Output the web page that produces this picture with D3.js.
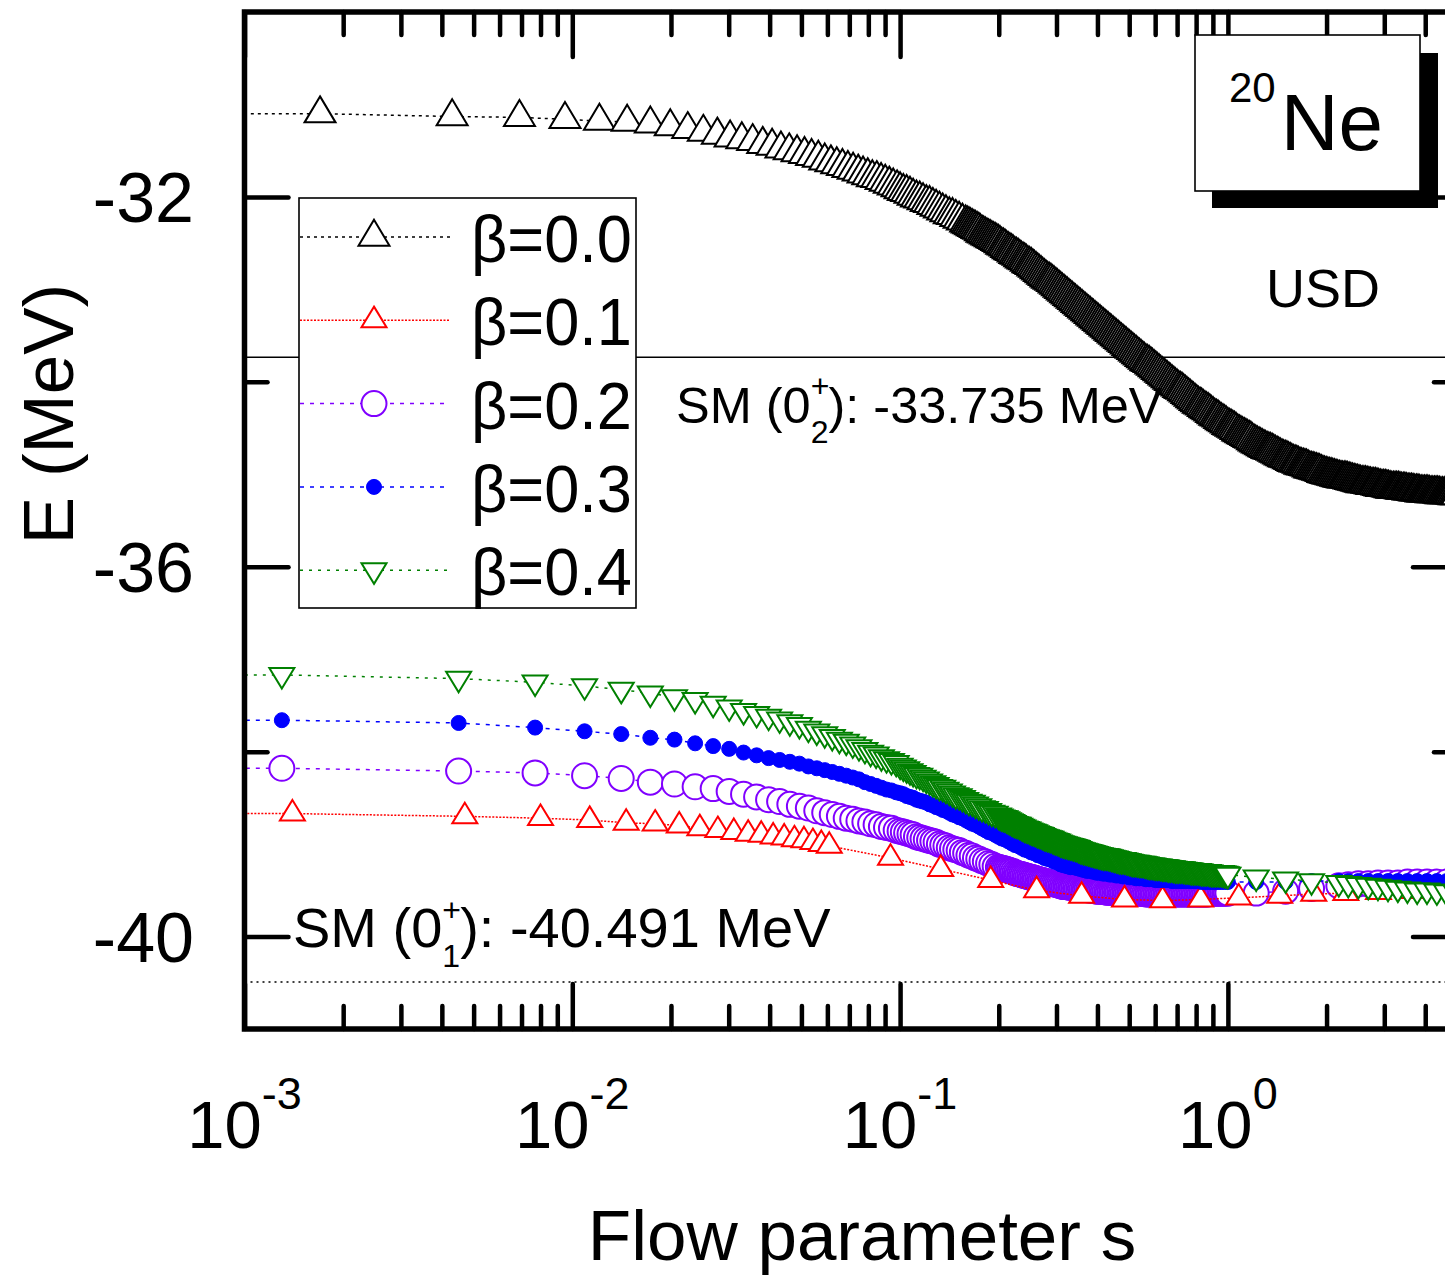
<!DOCTYPE html>
<html><head><meta charset="utf-8">
<script src="https://cdn.jsdelivr.net/npm/d3@7"></script>
<style>body{margin:0;background:#fff}svg{display:block}text{font-family:"Liberation Sans",Arial,sans-serif;fill:#000}</style>
</head><body><svg id="chart" width="1445" height="1287"></svg>
<script>
// ---------------- data ----------------
const seriesLabels = ["β=0.0","β=0.1","β=0.2","β=0.3","β=0.4"];
const xTickValues = [0.001, 0.01, 0.1, 1];
const xTickExponents = ["-3","-2","-1","0"];
const xMinorTicks = [0.002,0.003,0.004,0.005,0.006,0.007,0.008,0.009,0.02,0.03,0.04,0.05,0.06,0.07,0.08,0.09,0.2,0.3,0.4,0.5,0.6,0.7,0.8,0.9,2,3,4];
const yTickValues = [-32, -36, -40];
const yMinorTicks = [-34, -38];
const smLevels = [-33.735, -40.491];

// flow-parameter grid shared in the 0.1 - 1 region
const sFine = [0.1000,0.1023,0.1047,0.1072,0.1096,0.1122,0.1148,0.1175,0.1202,0.1230,
0.1259,0.1288,0.1318,0.1349,0.1380,0.1413,0.1445,0.1479,0.1514,0.1549,
0.1585,0.1622,0.1660,0.1698,0.1738,0.1778,0.1820,0.1862,0.1905,0.1950,
0.1995,0.2042,0.2089,0.2138,0.2188,0.2239,0.2291,0.2344,0.2399,0.2455,
0.2512,0.2570,0.2630,0.2692,0.2754,0.2818,0.2884,0.2951,0.3020,0.3090,
0.3162,0.3236,0.3311,0.3388,0.3467,0.3548,0.3631,0.3715,0.3802,0.3890,
0.3981,0.4074,0.4169,0.4266,0.4365,0.4467,0.4571,0.4677,0.4786,0.4898,
0.5012,0.5129,0.5248,0.5370,0.5495,0.5623,0.5754,0.5888,0.6026,0.6166,
0.6310,0.6457,0.6607,0.6761,0.6918,0.7079,0.7244,0.7413,0.7586,0.7762,
0.7943,0.8128,0.8318,0.8511,0.8710,0.8913,0.9120,0.9333,0.9550,0.9772];
// intermediate flow steps (dense part of the flow)
const sMidFine = [0.10116,0.10351,0.10593,0.10839,0.11092,0.11350,0.11614,0.11885,0.12162,0.12445,
0.12735,0.13032,0.13335,0.13646,0.13964,0.14289,0.14622,0.14962,0.15311,0.15668,
0.16032,0.16406,0.16788,0.17179,0.17579,0.17989,0.18408,0.18836,0.19275,0.19724,
0.20184,0.20654,0.21135,0.21627,0.22131,0.22646,0.23174,0.23714,0.24266,0.24831,
0.25410,0.26002,0.26607,0.27227,0.27861,0.28510,0.29174,0.29854,0.30549,0.31261,
0.31989,0.32734,0.33497,0.34277,0.35075,0.35892,0.36728,0.37584,0.38459,0.39355,
0.40272,0.41210,0.42170,0.43152,0.44157,0.45186,0.46238,0.47315,0.48417,0.49545,
0.50699,0.51880,0.53088,0.54325,0.55590,0.56885,0.58210,0.59566,0.60954,0.62373,
0.63826,0.65313,0.66834,0.68391,0.69984,0.71614,0.73282,0.74989,0.76736,0.78524,
0.80353,0.82224,0.84140,0.86099,0.88105,0.90157,0.92257,0.94406,0.96605,0.98855];
const sMidEnd = [1.0116,1.0351,1.0593,1.0839,1.1092,1.1350,1.1614,1.1885,1.2162,1.2445,
1.2735,1.3032,1.3335,1.3646,1.3964,1.4289,1.4622,1.4962,1.5311,1.5668,
1.6032,1.6406,1.6788,1.7179,1.7579,1.7989,1.8408,1.8836,1.9275,1.9724,
2.0184,2.0654,2.1135,2.1627,2.2131,2.2646,2.3174,2.3714,2.4266,2.4831,
2.5410,2.6002,2.6607,2.7227,2.7861,2.8510,2.9174,2.9854,3.0549,3.1261,
3.1989,3.2734,3.3497,3.4277,3.5075,3.5892,3.6728,3.7584,3.8459,3.9355,
4.0272,4.1210,4.2170,4.3152,4.4157,4.5186,4.6238,4.7315,4.8417,4.9545];

// beta = 0.0
const sBlackStart = [0.0005,0.0017,0.0043,0.0069,0.0095,0.0121,0.0147,0.0173,0.0199,0.0225,0.0251,
0.0277,0.0303,0.0329,0.0355,0.0381,0.0407,0.0433,0.0459,0.0485,0.0511,
0.0537,0.0563,0.0589,0.0615,0.0641,0.0667,0.0693,0.0719,0.0745,0.0771,
0.0797,0.0823,0.0849,0.0875,0.0901,0.0927,0.0953,0.0979];
const sBlackEnd = [1.000,1.023,1.047,1.072,1.096,1.122,1.148,1.175,1.202,1.230,
1.259,1.288,1.318,1.349,1.380,1.413,1.445,1.479,1.514,1.549,
1.585,1.622,1.660,1.698,1.738,1.778,1.820,1.862,1.905,1.950,
1.995,2.042,2.089,2.138,2.188,2.239,2.291,2.344,2.399,2.455,
2.512,2.570,2.630,2.692,2.754,2.818,2.884,2.951,3.020,3.090,
3.162,3.236,3.311,3.388,3.467,3.548,3.631,3.715,3.802,3.890,
3.981,4.074,4.169,4.266,4.365,4.467,4.571,4.677,4.786,4.898,5.012];
const eBlack = [-31.10,
-31.10,-31.13,-31.14,-31.16,-31.18,-31.19,-31.21,-31.24,-31.27,-31.30,
-31.33,-31.36,-31.38,-31.40,-31.43,-31.45,-31.48,-31.50,-31.52,-31.54,
-31.56,-31.58,-31.61,-31.63,-31.65,-31.67,-31.69,-31.71,-31.73,-31.75,
-31.77,-31.79,-31.80,-31.82,-31.84,-31.86,-31.88,-31.90,
-31.92,-31.94,-31.95,-31.97,-31.99,-32.01,-32.02,-32.04,-32.06,-32.07,
-32.09,-32.11,-32.13,-32.15,-32.17,-32.19,-32.20,-32.22,-32.24,-32.26,
-32.28,-32.30,-32.32,-32.34,-32.36,-32.39,-32.41,-32.43,-32.45,-32.47,
-32.49,-32.52,-32.54,-32.57,-32.59,-32.62,-32.64,-32.67,-32.69,-32.72,
-32.74,-32.77,-32.80,-32.83,-32.86,-32.89,-32.91,-32.94,-32.97,-33.00,
-33.03,-33.06,-33.09,-33.12,-33.15,-33.18,-33.21,-33.24,-33.27,-33.30,
-33.33,-33.36,-33.39,-33.42,-33.45,-33.48,-33.51,-33.54,-33.57,-33.60,
-33.63,-33.66,-33.69,-33.72,-33.75,-33.78,-33.80,-33.83,-33.86,-33.89,
-33.92,-33.95,-33.98,-34.01,-34.04,-34.07,-34.09,-34.12,-34.15,-34.18,
-34.21,-34.24,-34.26,-34.29,-34.31,-34.34,-34.37,-34.39,-34.42,-34.44,
-34.47,-34.49,-34.51,-34.54,-34.56,-34.58,-34.60,-34.62,-34.65,-34.67,
-34.69,-34.71,-34.73,-34.74,-34.76,-34.78,-34.80,-34.82,-34.83,-34.85,
-34.87,-34.88,-34.90,-34.91,-34.92,-34.94,-34.95,-34.96,-34.97,-34.99,
-35.00,-35.01,-35.02,-35.03,-35.04,-35.05,-35.05,-35.06,-35.07,-35.08,
-35.09,-35.10,-35.10,-35.11,-35.12,-35.12,-35.13,-35.14,-35.14,-35.15,
-35.16,-35.16,-35.16,-35.17,-35.17,-35.18,-35.18,-35.19,-35.19,-35.20,
-35.20,-35.20,-35.21,-35.21,-35.21,-35.22,-35.22,-35.22,-35.22,-35.23,-35.23];
// beta = 0.0 at the intermediate steps (sMidFine from index 20, then sMidEnd)
const eBlackMid = [
-32.29,-32.31,-32.33,-32.35,-32.375,-32.40,-32.42,-32.44,-32.46,-32.48,
-32.505,-32.53,-32.555,-32.58,-32.605,-32.63,-32.655,-32.68,-32.705,-32.73,
-32.755,-32.785,-32.815,-32.845,-32.875,-32.90,-32.925,-32.955,-32.985,-33.015,
-33.045,-33.075,-33.105,-33.135,-33.165,-33.195,-33.225,-33.255,-33.285,-33.315,
-33.345,-33.375,-33.405,-33.435,-33.465,-33.495,-33.525,-33.555,-33.585,-33.615,
-33.645,-33.675,-33.705,-33.735,-33.765,-33.79,-33.815,-33.845,-33.875,-33.905,
-33.935,-33.965,-33.995,-34.025,-34.055,-34.08,-34.105,-34.135,-34.165,-34.195,
-34.225,-34.25,-34.275,-34.30,-34.325,-34.355,-34.38,-34.405,-34.43,-34.455,
-34.48,-34.50,-34.525,-34.55,-34.57,-34.59,-34.61,-34.635,-34.66,-34.68,
-34.70,-34.72,-34.735,-34.75,-34.77,-34.79,-34.81,-34.825,-34.84,-34.86,
-34.875,-34.89,-34.905,-34.915,-34.93,-34.945,-34.955,-34.965,-34.98,-34.995,
-35.005,-35.015,-35.025,-35.035,-35.045,-35.05,-35.055,-35.065,-35.075,-35.085,
-35.095,-35.10,-35.105,-35.115,-35.12,-35.125,-35.135,-35.14,-35.145,-35.155,
-35.16,-35.16,-35.165,-35.17,-35.175,-35.18,-35.185,-35.19,-35.195,-35.20,
-35.20,-35.205,-35.21,-35.21,-35.215,-35.22,-35.22,-35.22,-35.225,-35.23];

// beta = 0.1
const sRed = [0.0005,0.0014,0.0047,0.0080,0.0113,0.0146,0.0179,0.0212,0.0245,0.0278,0.0311,
0.0344,0.0377,0.0410,0.0443,0.0476,0.0509,0.0542,0.0575,0.0608,
0.0935,0.133,0.189,0.261,0.358,0.484,0.632,0.826,1.079,1.439,1.828,2.29,2.88,3.66,4.62];
const eRed = [-38.67,-38.67,-38.70,-38.72,-38.74,-38.77,-38.78,-38.80,-38.83,-38.85,-38.87,
-38.89,-38.90,-38.92,-38.93,-38.95,-38.96,-38.98,-39.00,-39.02,
-39.15,-39.27,-39.39,-39.50,-39.56,-39.60,-39.61,-39.60,-39.58,-39.56,-39.54,-39.53,-39.52,-39.51,-39.50];

// beta = 0.2, 0.3, 0.4 share one flow grid
const sColStart = [0.0005,0.0013,0.0045,0.0077,0.0109,0.0141,0.0173,0.0205,0.0237,0.0269,0.0301,
0.0333,0.0365,0.0397,0.0429,0.0461,0.0493,0.0525,0.0557,0.0589,0.0621,
0.0653,0.0685,0.0717,0.0749,0.0781,0.0813,0.0845,0.0877,0.0909,0.0941,0.0973];
const sColEnd = [1.000,1.22,1.50,1.80,2.18,2.33,2.50,2.68,2.87,3.08,3.30,3.53,3.78,4.05,4.34,4.65,4.99];

const ePurple = [-38.18,
-38.18,-38.21,-38.23,-38.26,-38.29,-38.33,-38.35,-38.38,-38.40,-38.43,
-38.46,-38.49,-38.52,-38.54,-38.57,-38.59,-38.61,-38.64,-38.66,-38.68,
-38.70,-38.72,-38.73,-38.75,-38.76,-38.78,-38.79,-38.81,-38.82,-38.83,-38.85,
-38.86,-38.87,-38.88,-38.89,-38.90,-38.92,-38.93,-38.94,-38.95,-38.96,
-38.97,-38.98,-39.00,-39.01,-39.02,-39.04,-39.05,-39.06,-39.07,-39.09,
-39.10,-39.12,-39.13,-39.15,-39.16,-39.18,-39.19,-39.21,-39.22,-39.24,
-39.25,-39.26,-39.27,-39.28,-39.29,-39.31,-39.32,-39.33,-39.34,-39.35,
-39.36,-39.37,-39.38,-39.39,-39.40,-39.41,-39.42,-39.43,-39.44,-39.45,
-39.46,-39.46,-39.47,-39.47,-39.48,-39.48,-39.49,-39.49,-39.50,-39.50,
-39.51,-39.51,-39.51,-39.52,-39.52,-39.52,-39.52,-39.52,-39.53,-39.53,
-39.53,-39.53,-39.53,-39.53,-39.53,-39.54,-39.54,-39.54,-39.54,-39.54,
-39.54,-39.54,-39.54,-39.54,-39.54,-39.54,-39.54,-39.54,-39.54,-39.54,
-39.54,-39.54,-39.54,-39.54,-39.54,-39.53,-39.53,-39.53,-39.53,-39.53,
-39.53,-39.53,-39.51,-39.48,-39.45,-39.44,-39.43,-39.43,-39.42,-39.42,-39.42,-39.41,-39.41,-39.41,-39.41,-39.41,-39.41];
// beta = 0.2 at the intermediate steps (sMidFine from index 30)
const ePurpleMid = [
-39.255,-39.265,-39.275,-39.285,-39.30,-39.315,-39.325,-39.335,-39.345,-39.355,
-39.365,-39.375,-39.385,-39.395,-39.405,-39.415,-39.425,-39.435,-39.445,-39.455,
-39.46,-39.465,-39.47,-39.475,-39.48,-39.485,-39.49,-39.495,-39.50,-39.505,
-39.51,-39.51,-39.515,-39.52,-39.52,-39.52,-39.52,-39.525,-39.53,-39.53,
-39.53,-39.53,-39.53,-39.53,-39.535,-39.54,-39.54,-39.54,-39.54,-39.54,
-39.54,-39.54,-39.54,-39.54,-39.54,-39.54,-39.54,-39.54,-39.54,-39.54,
-39.54,-39.54,-39.54,-39.54,-39.535,-39.53,-39.53,-39.53,-39.53,-39.53];

const eBlue = [-37.66,
-37.66,-37.69,-37.74,-37.78,-37.81,-37.85,-37.87,-37.91,-37.94,-37.97,
-38.01,-38.04,-38.07,-38.09,-38.11,-38.13,-38.16,-38.18,-38.20,-38.22,
-38.24,-38.26,-38.28,-38.30,-38.33,-38.35,-38.37,-38.39,-38.41,-38.42,-38.44,
-38.45,-38.46,-38.48,-38.49,-38.50,-38.52,-38.53,-38.54,-38.55,-38.57,
-38.58,-38.60,-38.61,-38.63,-38.64,-38.66,-38.68,-38.69,-38.71,-38.72,
-38.74,-38.76,-38.78,-38.79,-38.81,-38.83,-38.85,-38.87,-38.88,-38.90,
-38.92,-38.94,-38.95,-38.97,-38.99,-39.01,-39.02,-39.04,-39.06,-39.07,
-39.09,-39.10,-39.12,-39.13,-39.15,-39.16,-39.17,-39.19,-39.20,-39.22,
-39.23,-39.24,-39.25,-39.25,-39.26,-39.27,-39.28,-39.29,-39.29,-39.30,
-39.31,-39.31,-39.32,-39.32,-39.33,-39.33,-39.34,-39.34,-39.35,-39.35,
-39.36,-39.36,-39.37,-39.37,-39.37,-39.38,-39.38,-39.38,-39.39,-39.39,
-39.39,-39.39,-39.39,-39.40,-39.40,-39.40,-39.40,-39.40,-39.40,-39.40,
-39.40,-39.40,-39.41,-39.41,-39.41,-39.41,-39.41,-39.41,-39.41,-39.41,
-39.41,-39.41,-39.41,-39.40,-39.40,-39.40,-39.40,-39.40,-39.40,-39.40,-39.40,-39.40,-39.40,-39.40,-39.40,-39.40,-39.40];

const eGreen = [-37.17,
-37.17,-37.21,-37.25,-37.29,-37.33,-37.37,-37.41,-37.44,-37.48,-37.52,
-37.56,-37.59,-37.62,-37.65,-37.68,-37.71,-37.75,-37.78,-37.81,-37.84,
-37.87,-37.89,-37.92,-37.95,-37.98,-38.01,-38.03,-38.06,-38.08,-38.10,-38.12,
-38.15,-38.17,-38.19,-38.21,-38.23,-38.25,-38.26,-38.28,-38.30,-38.32,
-38.34,-38.36,-38.38,-38.39,-38.41,-38.43,-38.45,-38.47,-38.48,-38.50,
-38.52,-38.54,-38.55,-38.57,-38.59,-38.61,-38.62,-38.64,-38.66,-38.67,
-38.69,-38.71,-38.72,-38.74,-38.76,-38.78,-38.79,-38.81,-38.83,-38.84,
-38.86,-38.87,-38.89,-38.90,-38.92,-38.93,-38.94,-38.96,-38.97,-38.99,
-39.00,-39.01,-39.02,-39.03,-39.04,-39.06,-39.07,-39.08,-39.09,-39.10,
-39.11,-39.12,-39.13,-39.13,-39.14,-39.15,-39.16,-39.17,-39.17,-39.18,
-39.19,-39.20,-39.20,-39.21,-39.21,-39.22,-39.23,-39.23,-39.24,-39.24,
-39.25,-39.25,-39.26,-39.26,-39.27,-39.27,-39.27,-39.28,-39.28,-39.29,
-39.29,-39.29,-39.30,-39.30,-39.30,-39.31,-39.31,-39.31,-39.31,-39.32,
-39.33,-39.36,-39.38,-39.40,-39.42,-39.43,-39.44,-39.45,-39.46,-39.47,-39.48,-39.49,-39.50,-39.50,-39.51,-39.52,-39.53];
// beta = 0.4 at the intermediate steps (sMidFine from index 30)
const eGreenMid = [
-38.70,-38.715,-38.73,-38.75,-38.77,-38.785,-38.80,-38.82,-38.835,-38.85,
-38.865,-38.88,-38.895,-38.91,-38.925,-38.935,-38.95,-38.965,-38.98,-38.995,
-39.005,-39.015,-39.025,-39.035,-39.05,-39.065,-39.075,-39.085,-39.095,-39.105,
-39.115,-39.125,-39.13,-39.135,-39.145,-39.155,-39.165,-39.17,-39.175,-39.185,
-39.195,-39.20,-39.205,-39.21,-39.215,-39.225,-39.23,-39.235,-39.24,-39.245,
-39.25,-39.255,-39.26,-39.265,-39.27,-39.27,-39.275,-39.28,-39.285,-39.29,
-39.29,-39.295,-39.30,-39.30,-39.305,-39.31,-39.31,-39.31,-39.315,-39.325];

const sBlack = [...sBlackStart, ...sFine, ...sBlackEnd];
const sBlackMid = [...sMidFine.slice(20), ...sMidEnd];
const sCol = [...sColStart, ...sFine, ...sColEnd];
const sColMid = sMidFine.slice(30);

// ---------------- chart ----------------
const svg = d3.select("#chart");
const X0 = 244.5, X1 = 1457, Y0 = 12, Y1 = 1029;
const x = d3.scaleLog().domain([0.001, 5]).range([X0, X1]);
const y = d3.scaleLinear().domain([-41, -30]).range([Y1, Y0]);

svg.append("defs").append("clipPath").attr("id","clip")
  .append("rect").attr("x",X0).attr("y",Y0).attr("width",X1-X0).attr("height",Y1-Y0);

const plot = svg.append("g").attr("clip-path","url(#clip)");

plot.append("line").attr("x1",X0).attr("x2",X1).attr("y1",y(smLevels[0])).attr("y2",y(smLevels[0]))
  .attr("stroke","#000").attr("stroke-width",1.6);
plot.append("line").attr("x1",X0).attr("x2",X1).attr("y1",y(smLevels[1])).attr("y2",y(smLevels[1]))
  .attr("stroke","#000").attr("stroke-width",1.6).attr("stroke-dasharray","2,4");

function triUp(w,h){return `M0,${-2*h/3}L${w/2},${h/3}L${-w/2},${h/3}Z`;}
function triDown(w,h){return `M0,${2*h/3}L${w/2},${-h/3}L${-w/2},${-h/3}Z`;}
function circ(r){return `M${r},0A${r},${r},0,1,1,${-r},0A${r},${r},0,1,1,${r},0Z`;}

const styles = [
  {color:"#000000", dash:"3,4",  shape:triUp(31,26),  fill:"#fff", sw:2},
  {color:"#ff0000", dash:"2,1.5",shape:triUp(25,20.5),fill:"#fff", sw:2},
  {color:"#8000ff", dash:"4,6",  shape:circ(12.5),    fill:"#fff", sw:2},
  {color:"#0000ff", dash:"4,6",  shape:circ(7.5),     fill:"#0000ff", sw:1},
  {color:"#008000", dash:"3,6",  shape:triDown(25,20.5),fill:"#fff", sw:2}
];

function pairs(sArr, eArr){
  const n = Math.min(sArr.length, eArr.length);
  return sArr.slice(0,n).map((s,i)=>({s, e:eArr[i]}));
}
function drawSeries(pts, st){
  pts = pts.slice().sort((a,b)=>a.s-b.s);
  plot.append("path").datum(pts)
    .attr("d", d3.line().x(d=>x(d.s)).y(d=>y(d.e)))
    .attr("fill","none").attr("stroke",st.color).attr("stroke-width",1.5).attr("stroke-dasharray",st.dash);
  plot.append("g").selectAll("path").data(pts).join("path")
    .attr("transform", d=>`translate(${x(d.s)},${y(d.e)})`)
    .attr("d", st.shape).attr("fill", st.fill).attr("stroke", st.color).attr("stroke-width", st.sw);
}
drawSeries([...pairs(sBlack, eBlack), ...pairs(sBlackMid, eBlackMid)], styles[0]);
drawSeries([...pairs(sCol, ePurple), ...pairs(sColMid, ePurpleMid)], styles[2]);
drawSeries(pairs(sRed, eRed), styles[1]);
drawSeries(pairs(sCol, eBlue), styles[3]);
drawSeries([...pairs(sCol, eGreen), ...pairs(sColMid, eGreenMid)], styles[4]);

// annotations
function smLabel(xp, yb, fs, sub, val){
  const t = svg.append("text").attr("x",xp).attr("y",yb).attr("font-size",fs);
  t.append("tspan").text("SM (0");
  t.append("tspan").attr("font-size",32).attr("dy",-26).text("+");
  t.append("tspan").attr("font-size",32).attr("dx",-18.7).attr("dy",46).text(sub);
  t.append("tspan").attr("dy",-20).text("): " + val + " MeV");
}
smLabel(676, 423, 50.5, "2", smLevels[0].toFixed(3));
smLabel(293, 947, 56, "1", smLevels[1].toFixed(3));

// axes
function styleAxis(g, w){ g.select(".domain").remove(); g.selectAll(".tick line").attr("stroke","#000").attr("stroke-width",w).attr("stroke-linecap","round"); g.selectAll(".tick text").remove(); }
const axB = svg.append("g").attr("transform",`translate(0,${Y1})`);
axB.append("g").call(d3.axisBottom(x).tickValues(xTickValues).tickSize(-45).tickFormat("")).call(g=>styleAxis(g,4.5));
axB.append("g").call(d3.axisBottom(x).tickValues(xMinorTicks).tickSize(-23).tickFormat("")).call(g=>styleAxis(g,4.5));
const axT = svg.append("g").attr("transform",`translate(0,${Y0})`);
axT.append("g").call(d3.axisTop(x).tickValues(xTickValues).tickSize(-45).tickFormat("")).call(g=>styleAxis(g,4.5));
axT.append("g").call(d3.axisTop(x).tickValues(xMinorTicks).tickSize(-23).tickFormat("")).call(g=>styleAxis(g,4.5));
const axL = svg.append("g").attr("transform",`translate(${X0},0)`);
axL.append("g").call(d3.axisLeft(y).tickValues(yTickValues).tickSize(-44).tickFormat("")).call(g=>styleAxis(g,4.5));
axL.append("g").call(d3.axisLeft(y).tickValues(yMinorTicks).tickSize(-23).tickFormat("")).call(g=>styleAxis(g,4.5));
const axR = svg.append("g").attr("transform",`translate(${X1},0)`);
axR.append("g").call(d3.axisRight(y).tickValues(yTickValues).tickSize(-44).tickFormat("")).call(g=>styleAxis(g,4.5));
axR.append("g").call(d3.axisRight(y).tickValues(yMinorTicks).tickSize(-23).tickFormat("")).call(g=>styleAxis(g,4.5));

svg.append("rect").attr("x",X0).attr("y",Y0).attr("width",X1-X0).attr("height",Y1-Y0)
  .attr("fill","none").attr("stroke","#000").attr("stroke-width",5.5);

// tick labels
yTickValues.forEach(v=>{
  svg.append("text").attr("x",194).attr("y",y(v)+25).attr("text-anchor","end").attr("font-size",70).text(String(v));
});
xTickValues.forEach((v,i)=>{
  const t = svg.append("text").attr("x",x(v)).attr("y",1148).attr("text-anchor","middle").attr("font-size",67);
  t.append("tspan").text("10");
  t.append("tspan").attr("font-size",45).attr("dy",-39).text(xTickExponents[i]);
});

// axis titles
svg.append("text").attr("x",862).attr("y",1260).attr("text-anchor","middle").attr("font-size",71).text("Flow parameter s");
svg.append("text").attr("transform","translate(73,414) rotate(-90)").attr("text-anchor","middle").attr("font-size",71).text("E (MeV)");

// legend
const leg = svg.append("g");
leg.append("rect").attr("x",299).attr("y",198).attr("width",337).attr("height",410)
  .attr("fill","#fff").attr("stroke","#000").attr("stroke-width",1.6);
[0,1,2,3,4].forEach((k,i)=>{
  const cy = 237 + i*83.3;
  const st = styles[k];
  leg.append("line").attr("x1",300).attr("x2",450).attr("y1",cy).attr("y2",cy)
    .attr("stroke",st.color).attr("stroke-width",1.5).attr("stroke-dasharray",st.dash);
  leg.append("path").attr("transform",`translate(374,${cy})`).attr("d",st.shape)
    .attr("fill",st.fill).attr("stroke",st.color).attr("stroke-width",st.sw);
  leg.append("text").attr("x",471).attr("y",cy+25).attr("font-size",67)
    .attr("textLength",161).attr("lengthAdjust","spacingAndGlyphs").text(seriesLabels[k]);
});

// nucleus box with shadow
svg.append("rect").attr("x",1212).attr("y",53).attr("width",226).attr("height",155).attr("fill","#000");
svg.append("rect").attr("x",1195).attr("y",35).attr("width",225).attr("height",156)
  .attr("fill","#fff").attr("stroke","#000").attr("stroke-width",1.6);
const nt = svg.append("text").attr("x",1229).attr("y",102).attr("font-size",42);
nt.append("tspan").text("20");
nt.append("tspan").attr("font-size",80).attr("dx",5).attr("dy",48).text("Ne");
svg.append("text").attr("x",1266).attr("y",307).attr("font-size",54).text("USD");
</script>
</body></html>
